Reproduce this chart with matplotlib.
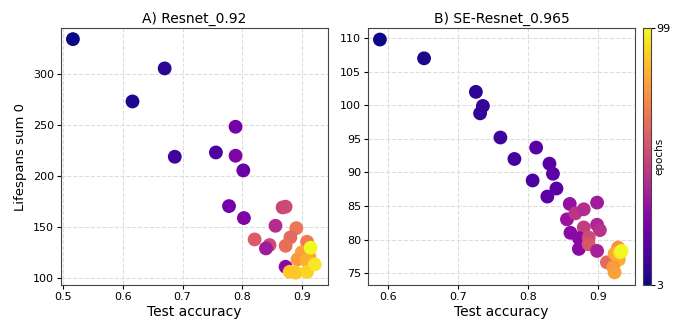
import matplotlib
matplotlib.use("Agg")
import matplotlib.pyplot as plt
from matplotlib.colors import Normalize

# A) Resnet_0.92
acc_a = [0.516, 0.670, 0.616, 0.687, 0.756, 0.789, 0.789, 0.802, 0.778, 0.803,
         0.868, 0.873, 0.856, 0.891, 0.821, 0.881, 0.846, 0.840, 0.873, 0.909,
         0.900, 0.893, 0.913, 0.908, 0.873, 0.880, 0.890, 0.909, 0.915, 0.922]
life_a = [334.6, 305.9, 273.5, 219.3, 223.5, 248.7, 220.3, 205.9, 170.9, 159.2,
          169.6, 170.3, 151.6, 149.3, 138.2, 140.2, 132.7, 129.4, 132.0, 135.9,
          125.5, 118.6, 121.2, 118.0, 111.4, 106.5, 105.6, 106.5, 130.1, 113.7]
ep_a = [3, 8, 5, 12, 15, 25, 28, 22, 25, 28,
        50, 52, 42, 66, 58, 62, 52, 36, 64, 68,
        78, 76, 80, 82, 30, 88, 88, 90, 99, 95]

# B) SE-Resnet_0.965
acc_b = [0.588, 0.651, 0.725, 0.735, 0.731, 0.760, 0.780, 0.811, 0.830, 0.835,
         0.806, 0.840, 0.827, 0.859, 0.898, 0.855, 0.867, 0.879, 0.860, 0.879,
         0.898, 0.902, 0.872, 0.886, 0.872, 0.886, 0.898, 0.912, 0.928, 0.923,
         0.929, 0.921, 0.923, 0.931, 0.933]
life_b = [109.8, 107.0, 102.0, 99.9, 98.8, 95.2, 92.0, 93.7, 91.3, 89.8,
          88.8, 87.6, 86.4, 85.3, 85.5, 83.0, 83.9, 84.5, 81.0, 81.8,
          82.2, 81.4, 80.2, 80.3, 78.6, 79.3, 78.3, 76.6, 78.8, 77.9,
          77.0, 75.9, 75.1, 78.1, 78.3]
ep_b = [3, 5, 8, 10, 9, 12, 13, 18, 17, 19,
        15, 18, 18, 33, 36, 34, 45, 42, 30, 48,
        40, 44, 30, 52, 30, 56, 38, 62, 74, 80,
        82, 76, 78, 95, 99]

fig = plt.figure(figsize=(6.74, 3.27), dpi=100)
norm = Normalize(vmin=3, vmax=99)
cmap = "plasma"

ax1 = fig.add_axes([0.0905, 0.128, 0.396, 0.786])
ax2 = fig.add_axes([0.546, 0.128, 0.396, 0.786])
cax = fig.add_axes([0.954, 0.128, 0.012, 0.786])

ax1.scatter(acc_a, life_a, c=ep_a, cmap=cmap, norm=norm, s=80, zorder=3)
sc = ax2.scatter(acc_b, life_b, c=ep_b, cmap=cmap, norm=norm, s=80, zorder=3)

ax1.set_xlim(0.496, 0.944)
ax1.set_ylim(93.4, 345.4)
ax1.set_xticks([0.5, 0.6, 0.7, 0.8, 0.9])
ax1.set_yticks([100, 150, 200, 250, 300])
ax1.set_title("A) Resnet_0.92", fontsize=10, pad=4)
ax1.set_xlabel("Test accuracy", fontsize=10, labelpad=2)
ax1.set_ylabel("Lifespans sum 0", fontsize=9.5, labelpad=4)

ax2.set_xlim(0.571, 0.952)
ax2.set_ylim(73.2, 111.5)
ax2.set_xticks([0.6, 0.7, 0.8, 0.9])
ax2.set_yticks([75, 80, 85, 90, 95, 100, 105, 110])
ax2.set_title("B) SE-Resnet_0.965", fontsize=10, pad=4)
ax2.set_xlabel("Test accuracy", fontsize=10, labelpad=2)

for ax in (ax1, ax2):
    ax.grid(True, linestyle="--", color="#dddddd", linewidth=0.8, zorder=0)
    ax.tick_params(labelsize=8, length=3, pad=2)
    for sp in ax.spines.values():
        sp.set_color("#444444")

cb = fig.colorbar(sc, cax=cax, ticks=[3, 99])
cb.ax.tick_params(labelsize=8, length=3, pad=1)
cb.outline.set_edgecolor("#444444")
# label sits between the two tick labels, close to the bar
cb.ax.text(2.05, 0.5, "epochs", rotation=90, fontsize=7.5,
           ha="center", va="center", transform=cb.ax.transAxes)

fig.savefig("out.png", dpi=100)
